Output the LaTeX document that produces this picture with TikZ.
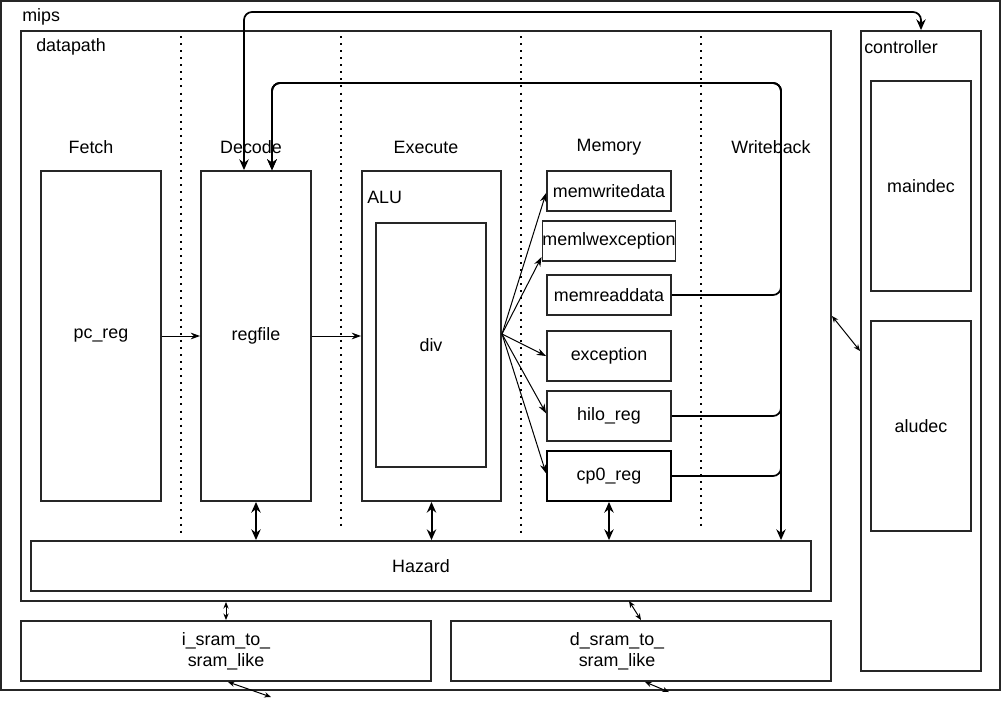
\documentclass[tikz,border=0pt]{standalone}
\usepackage{fontspec}
\setmainfont{Liberation Sans}
\usetikzlibrary{arrows.meta}

\begin{document}
\begin{tikzpicture}[x=0.75pt,y=-0.75pt,
    every node/.style={font=\fontsize{13.4}{16}\selectfont,inner sep=0pt},
    blk/.style 2 args={draw=black!85,line width=1.4pt,minimum width=#1*0.75pt,minimum height=#2*0.75pt},
    txt/.style={anchor=west},
    thinarr/.style={-{Stealth[length=7pt,width=5pt]},line width=0.75pt},
    duo/.style={{Stealth[length=8pt,width=7pt]}-{Stealth[length=8pt,width=7pt]},line width=1.5pt},
    smallduo/.style={{Stealth[length=5pt,width=4pt]}-{Stealth[length=5pt,width=4pt]},line width=0.75pt},
    bus/.style={line width=1.3pt,rounded corners=6pt}]

    \useasboundingbox (0,0) rectangle (1002,707);

    % Containers
    \node[blk={999}{689}] (mips) at (500.5,345.5) {};
    \node[blk={810}{570}] (datapath) at (426,316) {};
    \node[blk={120}{640}] (controller) at (921,351) {};
    \node[txt] (mipslbl) at (22,17) {mips};
    \node[txt] (dplbl) at (36,47) {datapath};
    \node[txt] (ctrllbl) at (864,47) {controller};

    % Controller units
    \node[blk={100}{210}] (maindec) at (921,186) {maindec};
    \node[blk={100}{210}] (aludec) at (921,426) {aludec};

    % Stage separators and titles
    \foreach \x/\yb in {181/536,341/528,521/535,701/528} {
      \draw[line width=1.5pt,dash pattern=on 1.5pt off 3.8pt] (\x,36) -- (\x,\yb);
    }
    \foreach \s/\x in {Fetch/91,Decode/251,Execute/426,Memory/609,Writeback/771} {
      \node (st\s) at (\x,147) {\s};
    }

    % Pipeline blocks
    \node[blk={120}{330}] (pc) at (101,336) {pc\_reg};
    \node[blk={110}{330}] (regfile) at (256,336) {regfile};
    \node[blk={139}{330}] (alu) at (431.5,336) {};
    \node[txt] (alulbl) at (367,197) {ALU};
    \node[blk={110}{244}] (div) at (431,345) {div};

    % Memory stage blocks
    \node[blk={124}{40}] (memwritedata) at (609,191) {memwritedata};
    \node[blk={124}{40}] (memlw) at (609,241) {memlwexception};
    \node[blk={124}{40}] (memreaddata) at (609,295) {memreaddata};
    \node[blk={124}{50}] (exception) at (609,356) {exception};
    \node[blk={124}{50}] (hilo) at (609,416) {hilo\_reg};
    \node[blk={124}{50},draw=black] (cp0) at (609,476) {cp0\_reg};

    % Hazard unit and bridges
    \node[blk={780}{50}] (hazard) at (421,566) {Hazard};
    \node[blk={410}{60},align=center] (isram) at (226,651) {i\_sram\_to\_\\sram\_like};
    \node[blk={380}{60}] (dsram) at (641,651) {};
    \node[align=center] (dsramlbl) at (617,651) {d\_sram\_to\_\\sram\_like};

    % Datapath flow
    \draw[thinarr] (pc.east) -- (regfile.west);
    \draw[thinarr] (regfile.east) -- (alu.west);
    \coordinate (fan) at (502,334);
    \foreach \m/\dy in {memwritedata/-1.5pt,memlw/-12pt,exception/0pt,hilo/2pt,cp0/2pt} {
      \draw[thinarr] (fan) -- ([yshift=\dy]\m.west);
    }

    % Writeback bus back to regfile
    \coordinate (wb) at (781,83);
    \coordinate (wbtap) at (781,212);
    \foreach \m in {memreaddata,hilo,cp0} {
      \draw[bus,-{Stealth[length=8pt,width=7pt]}] (\m.east) -| (wb) -| ([xshift=12pt]regfile.north);
    }
    \draw[line width=1.3pt,-{Stealth[length=8pt,width=7pt]}] (wbtap) -- (wbtap |- hazard.north);

    % Regfile <-> controller
    \coordinate (top) at (500,12);
    \draw[bus,{Stealth[length=8pt,width=7pt]}-{Stealth[length=8pt,width=7pt]}]
      ([xshift=-9pt]regfile.north) |- (top -| controller.north) -- (controller.north);

    % Hazard links
    \foreach \b in {regfile,alu,cp0} {
      \draw[duo] (\b.south) -- (\b.south |- hazard.north);
    }

    % Interface links
    \draw[smallduo] (datapath.east) -- (controller.west);
    \draw[smallduo] (isram.north |- datapath.south) -- (isram.north);
    \coordinate (dtap) at (629,601);
    \draw[smallduo] (dtap) -- (dsram.north);
    \coordinate (ifree) at (271,697);
    \coordinate (dfree) at (669,692);
    \draw[smallduo] ([xshift=1.5pt]isram.south) -- (ifree);
    \draw[smallduo] ([xshift=3pt]dsram.south) -- (dfree);

  \end{tikzpicture}
\end{document}
